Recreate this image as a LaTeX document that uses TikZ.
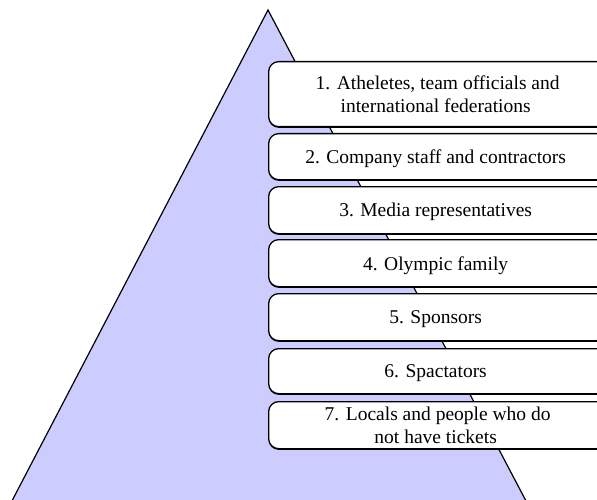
\documentclass[tikz,border=0pt]{standalone}
\usepackage{fontspec}
\setmainfont{Liberation Serif}
\usepackage{tikz}
\usetikzlibrary{shadows}
\definecolor{pyrfill}{RGB}{204,204,255}
\tikzset{tier/.style={draw, fill=white, rounded corners=10pt, line width=1.3pt, anchor=north west,
  minimum width=338pt, inner sep=0pt, align=center, text depth=0pt,
  general shadow={fill=black, shadow yshift=-1.2pt},
  font=\fontsize{19.5}{23}\selectfont}}

\begin{document}
\begin{tikzpicture}[x=1pt, y=-1pt]
\useasboundingbox (0,0) rectangle (597,500);
\clip (0,0) rectangle (597,500);
% pyramid, cut off by the page bottom
\draw[fill=pyrfill, line width=1.2pt] (2,520) -- (268,10) -- (536,520);
% access groups, text centred over the visible part
\node[tier, minimum height=65pt] (g1) at (268,61) {1. Atheletes, team officials and\\international federations\hspace*{4pt}};
\node[tier, minimum height=46pt] (g2) at (268,133) {2. Company staff and contractors\hspace*{4pt}};
\node[tier, minimum height=47pt] (g3) at (268,186) {3. Media representatives\hspace*{4pt}};
\node[tier, minimum height=47pt] (g4) at (268,239) {4. Olympic family\hspace*{4pt}};
\node[tier, minimum height=47pt] (g5) at (268,293) {5. Sponsors\hspace*{4pt}};
\node[tier, minimum height=45pt] (g6) at (268,348) {6. Spactators\hspace*{4pt}};
\node[tier, minimum height=47pt] (g7) at (268,401) {7. Locals and people who do\\not have tickets\hspace*{4pt}};
\end{tikzpicture}
\end{document}
